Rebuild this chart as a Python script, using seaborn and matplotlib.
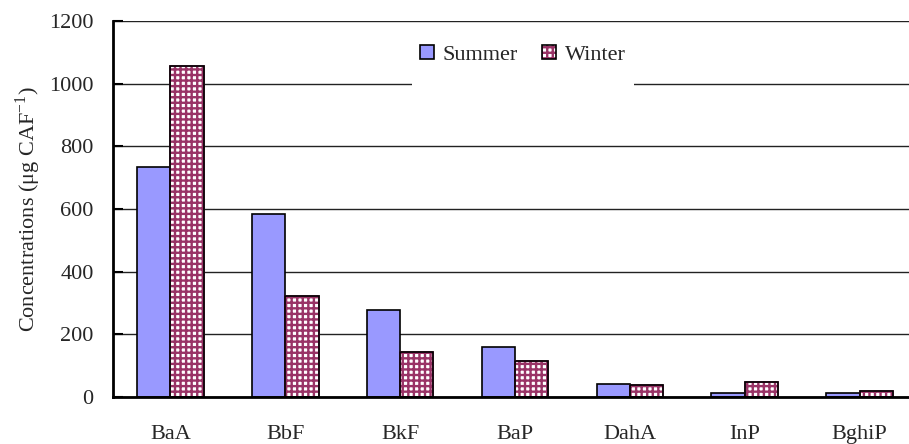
import pandas as pd
import seaborn as sns
import matplotlib
matplotlib.use('Agg')
import matplotlib.pyplot as plt
from matplotlib.patches import Patch, Rectangle
from matplotlib.path import Path

# data
compounds = ["BaA", "BbF", "BkF", "BaP", "DahA", "InP", "BghiP"]
summer = [735, 585, 278, 158, 42, 13, 12]
winter = [1055, 322, 145, 115, 37, 47, 18]
seasons = ["Summer", "Winter"]

df = pd.DataFrame({
    "compound": compounds * 2,
    "season": ["Summer"] * len(compounds) + ["Winter"] * len(compounds),
    "value": summer + winter,
})

sns.set_style("white")
plt.rcParams['font.family'] = ['Liberation Serif', 'DejaVu Serif']
plt.rcParams['mathtext.fontset'] = 'stix'
plt.rcParams['hatch.linewidth'] = 1.7

summer_color = "#9999ff"
winter_color = "#993366"

fig = plt.figure(figsize=(9.09, 4.44), dpi=100)
ax = fig.add_axes([113 / 909, 47 / 444, 804 / 909, 376 / 444])

sns.barplot(data=df, x="compound", y="value", hue="season", hue_order=seasons,
            order=compounds, palette={"Summer": summer_color, "Winter": winter_color},
            saturation=1, width=0.58, gap=0, edgecolor="black", linewidth=1.2,
            legend=False, ax=ax)

# checkered winter bars: magenta grid hatch on white, then a black outline on top
for bar in ax.containers[1]:
    bar.set_facecolor("white")
    bar.set_edgecolor(winter_color)
    bar.set_hatch("+++")
    ax.add_patch(Rectangle(bar.get_xy(), bar.get_width(), bar.get_height(),
                           fill=False, edgecolor="black", linewidth=1.2,
                           zorder=bar.get_zorder() + 0.1))

ax.set_xlim(-0.5, len(compounds) - 0.5)
ax.set_ylim(0, 1200)
ax.set_yticks(range(0, 1201, 200))
ax.yaxis.grid(True, color="#222222", linewidth=1.0)
ax.set_axisbelow(True)

ax.set_xticks(range(len(compounds)))
ax.set_xticklabels(compounds, fontsize=16)
ax.set_xticks([i + 0.5 for i in range(len(compounds) - 1)], minor=True)
ax.tick_params(axis="x", which="major", length=0, pad=20.5)
ax.tick_params(axis="x", which="minor", direction="in", length=6, width=1.5, color="black")
ax.tick_params(axis="y", direction="in", length=7, width=1.5, color="black",
               labelsize=16, pad=14, left=True)

for side in ["top", "right"]:
    ax.spines[side].set_visible(False)
for side in ["left", "bottom"]:
    ax.spines[side].set_color("black")
    ax.spines[side].set_linewidth(2)

ax.set_xlabel("")
ax.set_ylabel(r"Concentrations (μg CAF$^{\mathregular{-1}}$)", fontsize=16, labelpad=4)

handles = [
    Patch(facecolor=summer_color, edgecolor="black", linewidth=1.2),
    (Patch(facecolor="white", edgecolor=winter_color, hatch="+++", linewidth=0),
     Patch(fill=False, edgecolor="black", linewidth=1.2)),
]
leg = fig.legend(handles, seasons, loc="center", bbox_to_anchor=(523 / 909, 1 - 55 / 444),
                 ncol=2, fontsize=16, frameon=True, fancybox=False, framealpha=1,
                 handlelength=0.6, handleheight=0.6, handletextpad=0.4, columnspacing=1.1,
                 borderpad=0.4)


# legend background reaches further down, so it cuts the 1000 gridline only
def low_box(x0, y0, width, height, mutation_size):
    dy = 0.7 * mutation_size
    return Path([(x0, y0 - dy), (x0 + width, y0 - dy), (x0 + width, y0 + height),
                 (x0, y0 + height), (x0, y0 - dy)], closed=True)


leg.get_frame().set_boxstyle(low_box)
leg.get_frame().set_edgecolor("none")
leg.get_frame().set_facecolor("white")

fig.savefig("out.png", dpi=100)
